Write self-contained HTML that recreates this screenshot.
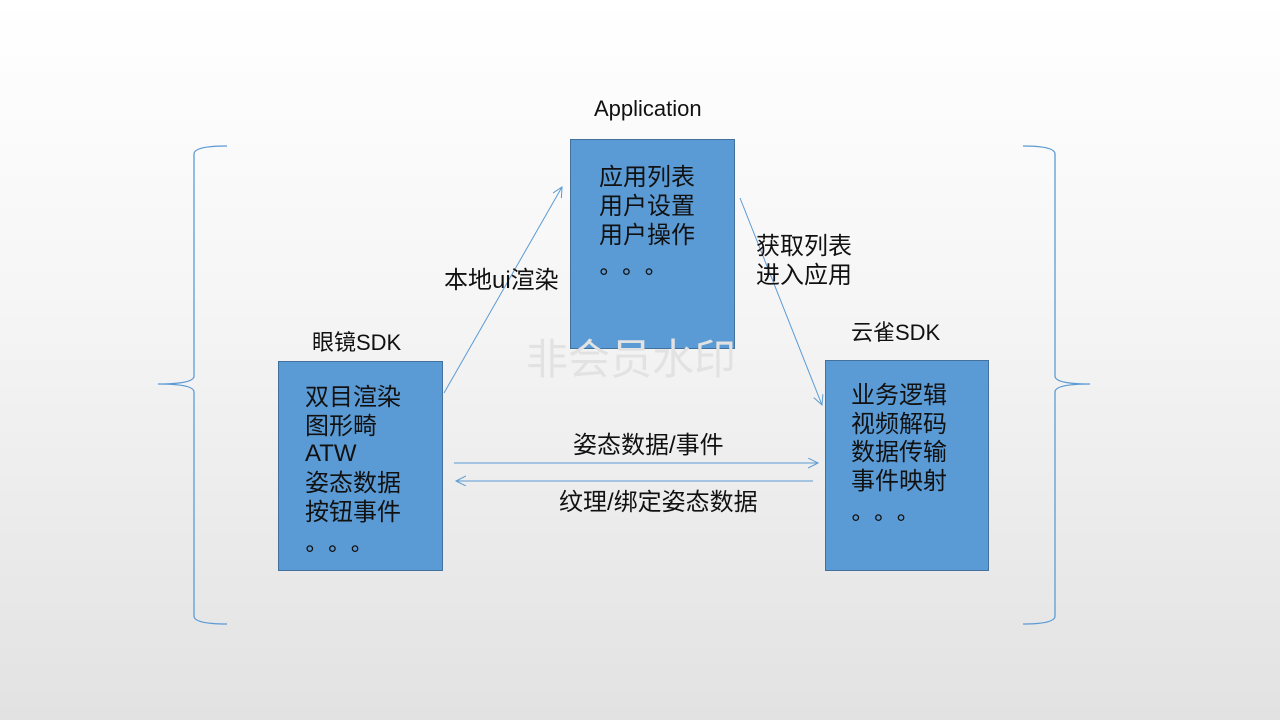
<!DOCTYPE html>
<html><head><meta charset="utf-8"><style>
html,body{margin:0;padding:0;width:1280px;height:720px;overflow:hidden}
body{background:linear-gradient(#fff 0%,#f6f6f6 40%,#e2e2e2 100%)}
svg text{font-family:"Liberation Sans","Noto Sans CJK SC",sans-serif;fill:#111}
</style></head><body>
<svg width="1280" height="720" xmlns="http://www.w3.org/2000/svg">
<defs><marker id="a" markerWidth="12" markerHeight="12" refX="10" refY="5" orient="auto" markerUnits="userSpaceOnUse"><path d="M0,0 L10,5 L0,10" fill="none" stroke="#5b9bd5" stroke-width="1"/></marker></defs>
<g fill="none" stroke="#5b9bd5" stroke-width="1.3">
<path d="M227,146 Q194,146 194,154 L194,376 Q194,384 158,384 Q194,384 194,392 L194,616 Q194,624 227,624"/>
<path d="M1023,146 Q1055,146 1055,154 L1055,376 Q1055,384 1090,384 Q1055,384 1055,392 L1055,616 Q1055,624 1023,624"/>
<line x1="444" y1="393" x2="562" y2="187" marker-end="url(#a)" stroke-width="1"/>
<line x1="740" y1="198" x2="822" y2="405" marker-end="url(#a)" stroke-width="1"/>
<line x1="454" y1="463" x2="818" y2="463" marker-end="url(#a)" stroke-width="1"/>
<line x1="813" y1="481" x2="456" y2="481" marker-end="url(#a)" stroke-width="1"/>
</g>
<g fill="#5b9bd5" stroke="#41719c" stroke-width="1">
<rect x="570.5" y="139.5" width="164" height="209"/>
<rect x="278.5" y="361.5" width="164" height="209"/>
<rect x="825.5" y="360.5" width="163" height="210"/>
</g>
<text x="526" y="374" font-size="42" style="fill:#e2e2e2">非会员水印</text>
<g font-size="24">
<text x="594" y="116" font-size="22">Application</text>
<text x="312" y="350" font-size="22">眼镜SDK</text>
<text x="851" y="340" font-size="22">云雀SDK</text>
<text x="444" y="288">本地ui渲染</text>
<text x="756" y="254">获取列表</text>
<text x="756" y="283">进入应用</text>
<text x="573" y="453">姿态数据/事件</text>
<text x="559" y="510">纹理/绑定姿态数据</text>
<text x="599" y="185">应用列表</text>
<text x="599" y="214">用户设置</text>
<text x="599" y="243">用户操作</text>
<text x="599" y="285" letter-spacing="13">°°°</text>
<text x="305" y="405">双目渲染</text>
<text x="305" y="434">图形畸</text>
<text x="305" y="461">ATW</text>
<text x="305" y="491">姿态数据</text>
<text x="305" y="520">按钮事件</text>
<text x="305" y="562" letter-spacing="13">°°°</text>
<text x="851" y="403">业务逻辑</text>
<text x="851" y="432">视频解码</text>
<text x="851" y="460">数据传输</text>
<text x="851" y="489">事件映射</text>
<text x="851" y="531" letter-spacing="13">°°°</text>
</g>
</svg>
</body></html>
